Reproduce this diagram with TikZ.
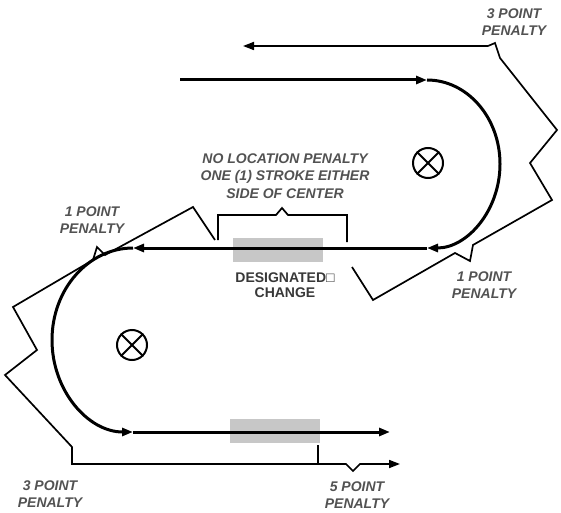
\documentclass[tikz,border=0pt]{standalone}
\usepackage{fontspec}
\setmainfont{Liberation Sans}
\usetikzlibrary{arrows.meta}

\begin{document}
\begin{tikzpicture}[x=1pt, y=1pt,
        track/.style={line width=3pt},
        penline/.style={line width=1.7pt, line join=miter},
        headed/.style={-{Triangle[length=11pt,width=8pt]}},
        zonebox/.style={fill=black!22, draw=none},
        pivot/.style={draw, circle, minimum size=30pt, inner sep=0pt, line width=2pt},
        pentext/.style={text=black!68, align=center, inner sep=0pt,
            font=\fontsize{14}{17.5}\selectfont\bfseries\itshape},
        zonetext/.style={text=black!78, align=center, inner sep=0pt,
            font=\fontsize{14}{15}\selectfont\bfseries}]
        \useasboundingbox (0,0) rectangle (561,512);
        \fill[zonebox] (233,250) rectangle (323,274);
        \fill[zonebox] (230,69) rectangle (320,93);
        \coordinate (upin) at (180,432);
        \coordinate (upturn) at (427,432);
        \coordinate (midR) at (427,264);
        \coordinate (midL) at (133,264);
        \coordinate (lowL) at (133,80);
        \coordinate (lowout) at (390,80);
        \draw[track, headed] (upin) -- (upturn);
        \draw[track, headed] (upturn) arc[start angle=90, end angle=-90, x radius=73, y radius=84];
        \draw[track, headed] (midR) -- (midL);
        \draw[track, headed] (midL) arc[start angle=90, end angle=270, x radius=81, y radius=92];
        \draw[track, headed] (lowL) -- (lowout);
        \coordinate (backR) at (488,466);
        \coordinate (backL) at (243,466);
        \draw[penline, headed] (backR) -- (backL);
        \draw[penline] (backR) -- (495,469) -- (500,454) -- (557,382) -- (530,349) -- (552,312)
            -- (473,267) -- (470,251) -- (455,259) -- (373,212) -- (352,245);
        \draw[penline] (215,272) -- (193,305) -- (105,257) -- (97,265) -- (93,252) -- (13,205)
            -- (37,162) -- (5,137) -- (72,65) -- (72,48) -- (318,48);
        \coordinate (outend) at (400,48);
        \draw[penline] (318,48) -- (318,67);
        \draw[penline, headed] (318,48) -- (346,48) -- (353,41) -- (360,48) -- (outend);
        \draw[penline] (218,272) -- (218,297) -- (276,297) -- (282,304) -- (288,297) -- (347,297) -- (347,270);
        \node[pivot] (pivotup) at (428,349) {};
        \draw[line width=2pt] (pivotup.north east) -- (pivotup.south west);
        \draw[line width=2pt] (pivotup.north west) -- (pivotup.south east);
        \node[pivot] (pivotlow) at (132,167) {};
        \draw[line width=2pt] (pivotlow.north east) -- (pivotlow.south west);
        \draw[line width=2pt] (pivotlow.north west) -- (pivotlow.south east);
        \node[pentext] (pentopR) at (514,490) {3 POINT\\PENALTY};
        \node[pentext] (penmidL) at (92,292) {1 POINT\\PENALTY};
        \node[pentext] (penmidR) at (484,227) {1 POINT\\PENALTY};
        \node[pentext] (penlowL) at (50,18) {3 POINT\\PENALTY};
        \node[pentext] (penlowR) at (357,17) {5 POINT\\PENALTY};
        \node[pentext] (freezone) at (285,336) {NO LOCATION PENALTY\\ONE (1) STROKE EITHER\\SIDE OF CENTER};
        \node[zonetext] (change) at (285,227) {DESIGNATED□\\CHANGE};
    \end{tikzpicture}
\end{document}
